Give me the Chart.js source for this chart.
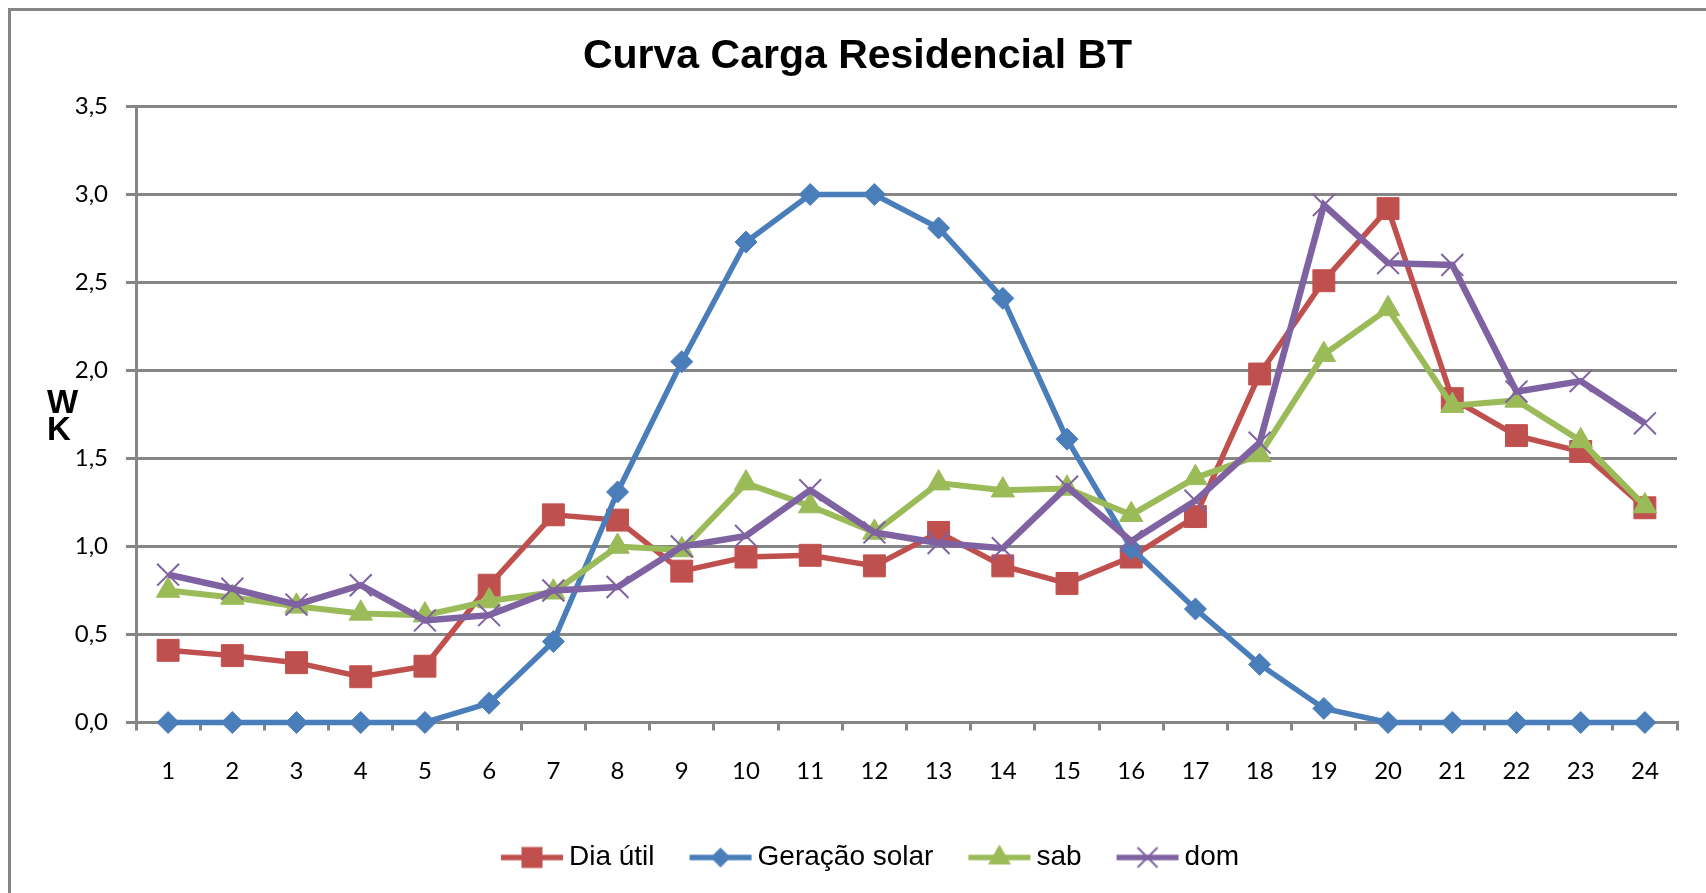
<!DOCTYPE html>
<html>
<head>
<meta charset="utf-8">
<script src="https://cdn.jsdelivr.net/npm/chart.js@4.4.1/dist/chart.umd.min.js"></script>
<style>
  html, body { margin: 0; padding: 0; background: #ffffff; }
  #wrap { position: absolute; left: 0; top: 0; width: 1706px; height: 893px; }
</style>
</head>
<body>
<div id="wrap"><canvas id="c" width="1706" height="893"></canvas></div>
<script>
// ---- data ----
const hours = ['1','2','3','4','5','6','7','8','9','10','11','12','13','14','15','16','17','18','19','20','21','22','23','24'];
const diaUtil = [0.41, 0.38, 0.34, 0.26, 0.32, 0.78, 1.18, 1.15, 0.86, 0.94, 0.95, 0.89, 1.08, 0.89, 0.79, 0.94, 1.17, 1.98, 2.51, 2.92, 1.84, 1.63, 1.54, 1.22];
const geracaoSolar = [0, 0, 0, 0, 0, 0.11, 0.46, 1.31, 2.05, 2.73, 3.0, 3.0, 2.81, 2.41, 1.61, 0.99, 0.645, 0.33, 0.08, 0, 0, 0, 0, 0];
const sab = [0.75, 0.71, 0.66, 0.62, 0.61, 0.69, 0.74, 1.0, 0.98, 1.36, 1.23, 1.08, 1.36, 1.32, 1.33, 1.18, 1.39, 1.52, 2.09, 2.35, 1.80, 1.83, 1.60, 1.23];
const dom = [0.84, 0.76, 0.67, 0.78, 0.58, 0.61, 0.75, 0.77, 1.0, 1.06, 1.32, 1.08, 1.02, 0.99, 1.34, 1.03, 1.26, 1.59, 2.94, 2.61, 2.60, 1.88, 1.94, 1.70];
const seriesNames = ['Dia útil', 'Geração solar', 'sab', 'dom'];
const yTickValues = [0, 0.5, 1.0, 1.5, 2.0, 2.5, 3.0, 3.5];
const yTickLabels = ['0,0', '0,5', '1,0', '1,5', '2,0', '2,5', '3,0', '3,5'];
const chartTitle = 'Curva Carga Residencial BT';
const yAxisLetters = ['W', 'K'];

// ---- styles ----
const RED = '#C0504D', BLUE = '#4A7EBB', GREEN = '#9BBB59', PURPLE = '#7F62A1';
const GRID = '#868686';

function makeIcon(color, type) {
  const c = document.createElement('canvas');
  c.width = 97; c.height = 30;
  const g = c.getContext('2d');
  g.strokeStyle = color; g.fillStyle = color;
  g.lineWidth = 5.5;
  g.beginPath(); g.moveTo(34, 15); g.lineTo(96, 15); g.stroke();
  const cx = 65, cy = 15;
  g.beginPath();
  if (type === 'rect') {
    g.fillRect(cx - 10.5, cy - 10.5, 21, 21);
  } else if (type === 'diamond') {
    g.moveTo(cx, cy - 10); g.lineTo(cx + 10, cy); g.lineTo(cx, cy + 10); g.lineTo(cx - 10, cy); g.closePath(); g.fill();
  } else if (type === 'triangle') {
    g.moveTo(cx, cy - 13); g.lineTo(cx + 11.5, cy + 7); g.lineTo(cx - 11.5, cy + 7); g.closePath(); g.fill();
  } else if (type === 'x') {
    g.lineWidth = 2;
    g.moveTo(cx - 10, cy - 10); g.lineTo(cx + 10, cy + 10);
    g.moveTo(cx + 10, cy - 10); g.lineTo(cx - 10, cy + 10);
    g.stroke();
  }
  return c;
}
const legendIcons = [makeIcon(RED, 'rect'), makeIcon(BLUE, 'diamond'), makeIcon(GREEN, 'triangle'), makeIcon(PURPLE, 'x')];

const extrasPlugin = {
  id: 'extras',
  beforeDraw(chart) {
    const ctx = chart.ctx;
    ctx.save();
    ctx.fillStyle = '#ffffff';
    ctx.fillRect(0, 0, chart.width, chart.height);
    ctx.strokeStyle = GRID;
    ctx.lineWidth = 3;
    ctx.strokeRect(9.5, 9.5, 2400, 2400);
    ctx.restore();
  },
  afterDraw(chart) {
    const ctx = chart.ctx;
    ctx.save();
    ctx.fillStyle = '#000000';
    ctx.font = 'bold 33px "Liberation Sans", Arial, sans-serif';
    ctx.textAlign = 'left';
    ctx.textBaseline = 'middle';
    ctx.fillText(yAxisLetters[0], 47, 404);
    ctx.fillText(yAxisLetters[1], 47, 431);
    ctx.restore();
  }
};

const ctx = document.getElementById('c').getContext('2d');
new Chart(ctx, {
  type: 'line',
  data: {
    labels: hours,
    datasets: [
      { label: seriesNames[0], data: diaUtil, order: 3, clip: false, borderColor: RED, backgroundColor: RED, borderWidth: 5.5,
        pointStyle: 'rect', pointRadius: 15.5, pointHoverRadius: 15.5, pointBackgroundColor: RED, pointBorderColor: RED, pointBorderWidth: 1 },
      { label: seriesNames[1], data: geracaoSolar, order: 2, clip: false, borderColor: BLUE, backgroundColor: BLUE, borderWidth: 5.5,
        pointStyle: 'rectRot', pointRadius: 11, pointHoverRadius: 11, pointBackgroundColor: BLUE, pointBorderColor: BLUE, pointBorderWidth: 1 },
      { label: seriesNames[2], data: sab, order: 1, clip: false, borderColor: GREEN, backgroundColor: GREEN, borderWidth: 6,
        pointStyle: 'triangle', pointRadius: 13.5, pointHoverRadius: 13.5, pointBackgroundColor: GREEN, pointBorderColor: GREEN, pointBorderWidth: 1 },
      { label: seriesNames[3], data: dom, order: 0, clip: false, borderColor: PURPLE, backgroundColor: PURPLE, borderWidth: 6.5,
        pointStyle: 'crossRot', pointRadius: 15.5, pointHoverRadius: 15.5, pointBackgroundColor: PURPLE, pointBorderColor: PURPLE, pointBorderWidth: 2 }
    ]
  },
  options: {
    responsive: false,
    animation: false,
    devicePixelRatio: 1,
    layout: { padding: { left: 38, right: 29, top: 0, bottom: 11.5 } },
    elements: { line: { tension: 0 } },
    plugins: {
      title: {
        display: true,
        text: chartTitle,
        color: '#000000',
        font: { family: '"Liberation Sans", Arial, sans-serif', size: 41, weight: 'bold', lineHeight: 1.2 },
        padding: { top: 31.9, bottom: 25.4 }
      },
      legend: {
        position: 'bottom',
        labels: {
          color: '#000000',
          font: { family: '"Liberation Sans", Arial, sans-serif', size: 28 },
          usePointStyle: true,
          pointStyleWidth: 79,
          padding: 10,
          generateLabels(chart) {
            const items = Chart.defaults.plugins.legend.labels.generateLabels(chart);
            items.forEach(it => { it.pointStyle = legendIcons[it.datasetIndex]; });
            return items;
          },
          sort: (a, b) => a.datasetIndex - b.datasetIndex
        }
      },
      tooltip: { enabled: false }
    },
    scales: {
      x: {
        type: 'category',
        offset: true,
        grid: { display: true, drawOnChartArea: false, drawTicks: true, tickLength: 8, offset: true, color: GRID, lineWidth: 3 },
        border: { display: true, color: GRID, width: 3 },
        ticks: { color: '#000000', font: { family: 'Lato, "Open Sans", sans-serif', size: 24 }, padding: 26, autoSkip: false, maxRotation: 0 },
        afterFit(scale) { scale.height = 111; }
      },
      y: {
        min: 0, max: 3.5,
        afterBuildTicks(scale) { scale.ticks = yTickValues.map(v => ({ value: v })); },
        grid: { color: GRID, lineWidth: 3, drawTicks: true, tickLength: 10 },
        border: { display: true, color: GRID, width: 3 },
        ticks: {
          color: '#000000', font: { family: 'Lato, "Open Sans", sans-serif', size: 24 }, padding: 18,
          callback: (v) => { const i = yTickValues.indexOf(v); return i >= 0 ? yTickLabels[i] : ''; }
        },
        afterFit(scale) { scale.width = 98; }
      }
    }
  },
  plugins: [extrasPlugin]
});
</script>
</body>
</html>
